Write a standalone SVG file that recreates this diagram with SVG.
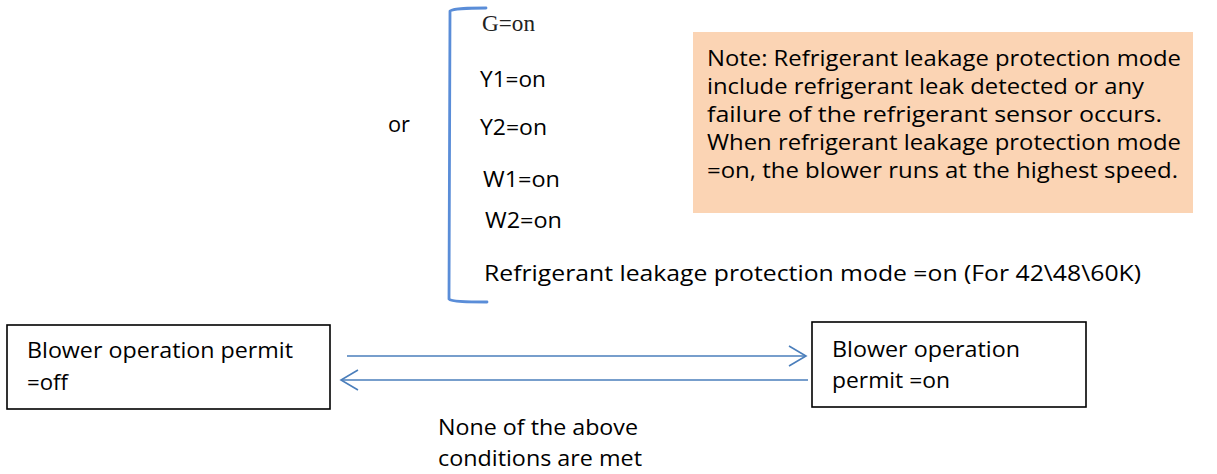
<svg xmlns="http://www.w3.org/2000/svg" width="1217" height="474" viewBox="0 0 1217 474">
<style>
.t{font-family:"Open Sans","Liberation Sans",sans-serif;font-size:22px;fill:#000}
.s{font-family:"Liberation Serif","DejaVu Serif",serif;font-size:23px;fill:#222}
.box{fill:#fff;stroke:#000;stroke-width:1.6}
.note{fill:#FBD4B4;stroke:none}
.ln{fill:none;stroke:#4A7EBB;stroke-width:1.6}
.br{fill:none;stroke:#5A8DD8;stroke-width:2.8;stroke-linecap:round;stroke-linejoin:round}
</style>
<defs>
<marker id="ah" viewBox="0 0 20 24" refX="18" refY="12" markerWidth="20" markerHeight="24" markerUnits="userSpaceOnUse" orient="auto">
<path d="M1,2 L18,12 L1,22" fill="none" stroke="#4A7EBB" stroke-width="1.6"/>
</marker>
</defs>
<g id="conditions">
<path class="br" d="M486,8 C470,8 454,8 450,11 L449,299 C451,302 470,302 487,302"/>
<text class="t" x="388" y="132" textLength="22" lengthAdjust="spacingAndGlyphs">or</text>
<text class="s" x="482" y="31" textLength="53" lengthAdjust="spacingAndGlyphs">G=on</text>
<text class="t" x="480" y="87" textLength="66" lengthAdjust="spacingAndGlyphs">Y1=on</text>
<text class="t" x="480" y="135" textLength="67" lengthAdjust="spacingAndGlyphs">Y2=on</text>
<text class="t" x="483" y="187" textLength="77" lengthAdjust="spacingAndGlyphs">W1=on</text>
<text class="t" x="485" y="228" textLength="77" lengthAdjust="spacingAndGlyphs">W2=on</text>
<text class="t" x="484" y="281" textLength="657" lengthAdjust="spacingAndGlyphs">Refrigerant leakage protection mode =on (For 42\48\60K)</text>
</g>
<g id="note">
<rect class="note" x="693" y="32" width="500" height="181"/>
<text class="t" x="707" y="66" textLength="474" lengthAdjust="spacingAndGlyphs">Note: Refrigerant leakage protection mode</text>
<text class="t" x="707" y="94" textLength="437" lengthAdjust="spacingAndGlyphs">include refrigerant leak detected or any</text>
<text class="t" x="707" y="122" textLength="455" lengthAdjust="spacingAndGlyphs">failure of the refrigerant sensor occurs.</text>
<text class="t" x="707" y="150" textLength="474" lengthAdjust="spacingAndGlyphs">When refrigerant leakage protection mode</text>
<text class="t" x="707" y="178" textLength="471" lengthAdjust="spacingAndGlyphs">=on, the blower runs at the highest speed.</text>
</g>
<g id="permit-off">
<rect class="box" x="7" y="325" width="323" height="84"/>
<text class="t" x="27" y="358" textLength="266" lengthAdjust="spacingAndGlyphs">Blower operation permit</text>
<text class="t" x="27" y="390" textLength="41" lengthAdjust="spacingAndGlyphs">=off</text>
</g>
<g id="permit-on">
<rect class="box" x="812" y="322" width="274" height="85"/>
<text class="t" x="832" y="357" textLength="188" lengthAdjust="spacingAndGlyphs">Blower operation</text>
<text class="t" x="832" y="388" textLength="118" lengthAdjust="spacingAndGlyphs">permit =on</text>
</g>
<g id="connectors">
<line class="ln" x1="347" y1="356" x2="806" y2="356" marker-end="url(#ah)"/>
<line class="ln" x1="808" y1="380" x2="341" y2="380" marker-end="url(#ah)"/>
<text class="t" x="438" y="435" textLength="200" lengthAdjust="spacingAndGlyphs">None of the above</text>
<text class="t" x="438" y="466" textLength="204" lengthAdjust="spacingAndGlyphs">conditions are met</text>
</g>
</svg>
